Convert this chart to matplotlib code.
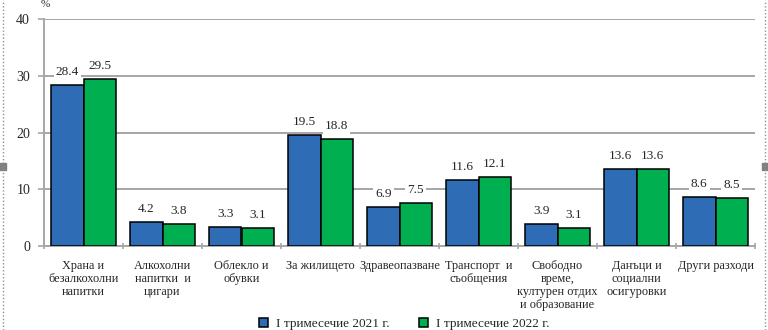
import numpy as np
import matplotlib
matplotlib.use('Agg')
import matplotlib.pyplot as plt
from matplotlib.lines import Line2D
from matplotlib.patches import Rectangle, Patch

plt.rcParams['font.family'] = ['Liberation Serif', 'DejaVu Serif']

categories = ['Храна и\nбезалкохолни\nнапитки',
              'Алкохолни\nнапитки  и\nцигари',
              'Облекло и\nобувки',
              'За жилището',
              'Здравеопазване',
              'Транспорт  и\nсъобщения',
              'Свободно\nвреме,\nкултурен отдих\nи образование',
              'Данъци и\nсоциални\nосигуровки',
              'Други разходи']
q1_2021 = [28.4, 4.2, 3.3, 19.5, 6.9, 11.6, 3.9, 13.6, 8.6]
q1_2022 = [29.5, 3.8, 3.1, 18.8, 7.5, 12.1, 3.1, 13.6, 8.5]
series_names = ['I тримесечие 2021 г.', 'I тримесечие 2022 г.']
yticks = [0, 10, 20, 30, 40]

blue = '#2E6DB6'
green = '#00B050'
grid_c = '#A6A6A6'
txt_c = '#262626'

fig = plt.figure(figsize=(7.68, 3.3), dpi=100)
ax = fig.add_axes([44/768, 1-246/330, 711/768, 227/330])

x = np.arange(len(categories))
w = 0.41
b1 = ax.bar(x - w/2, q1_2021, w, color=blue, edgecolor='black', linewidth=1.1, zorder=3)
b2 = ax.bar(x + w/2, q1_2022, w, color=green, edgecolor='black', linewidth=1.1, zorder=3)

for bars, vals in [(b1, q1_2021), (b2, q1_2022)]:
    for r, v in zip(bars, vals):
        ax.annotate(f'{v:.1f}', (r.get_x() + r.get_width()/2, v), xytext=(0, 5),
                    textcoords='offset points', ha='center', va='bottom',
                    fontsize=9.5, color=txt_c, zorder=4,
                    bbox=dict(boxstyle='square,pad=0.15', fc='white', ec='none'))

ax.set_xlim(-0.5, len(categories) - 0.5)
ax.set_ylim(0, 40)
ax.set_yticks(yticks)
ax.yaxis.grid(True, color=grid_c, linewidth=1.4, zorder=0)
ax.set_axisbelow(True)

ax.set_xticks(x)
ax.set_xticklabels(categories, fontsize=8.8, color=txt_c, linespacing=1.12, va='top')
ax.tick_params(axis='x', length=0, pad=10)
ax.set_xticks(np.arange(len(categories) + 1) - 0.5, minor=True)
ax.tick_params(axis='x', which='minor', length=4, direction='inout', color=grid_c, width=1.2)
ax.tick_params(axis='y', length=4, color=grid_c, width=1.2, labelsize=10, labelcolor=txt_c, pad=6)

for s in ['top', 'right']:
    ax.spines[s].set_visible(False)
ax.spines['left'].set_color(grid_c)
ax.spines['bottom'].set_color(grid_c)
ax.spines['left'].set_linewidth(1.4)
ax.spines['bottom'].set_linewidth(1.4)

fig.text(45/768, 1.0, '%', fontsize=8, color=txt_c, ha='center', va='top')

handles = [Patch(facecolor=blue, edgecolor='black', linewidth=1.1),
           Patch(facecolor=green, edgecolor='black', linewidth=1.1)]
fig.legend(handles, series_names, loc='center', bbox_to_anchor=(404/768, 1 - 324/330),
           ncol=2, frameon=False, fontsize=9.5, handlelength=0.7, handleheight=0.7,
           handletextpad=0.6, columnspacing=2.2, labelcolor=txt_c)

# dotted frame at the sides
for xp in [3/768, 765/768]:
    fig.add_artist(Line2D([xp, xp], [0, 1], color='#909090', linestyle=(0, (1, 1.5)), linewidth=1))
    fig.add_artist(Rectangle((xp - 3/768, 1 - 170/330), 6/768, 7/330, color='#808080'))

fig.savefig('out.png', dpi=100)
